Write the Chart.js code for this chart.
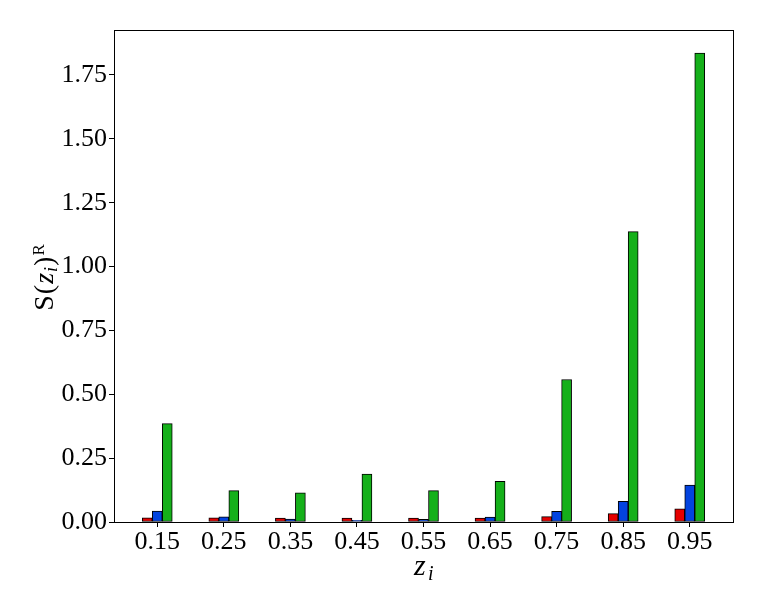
<!DOCTYPE html>
<html>
<head>
<meta charset="UTF-8">
<script src="https://cdn.jsdelivr.net/npm/chart.js"></script>
<style>
  body { margin: 0; background: #fff; }
  canvas { display: block; }
</style>
</head>
<body>
<canvas id="c" width="763" height="610"></canvas>
<script>
const categories = ['0.15', '0.25', '0.35', '0.45', '0.55', '0.65', '0.75', '0.85', '0.95'];
const redVals   = [0.016, 0.016, 0.015, 0.015, 0.015, 0.015, 0.021, 0.033, 0.052];
const blueVals  = [0.043, 0.020, 0.011, 0.007, 0.010, 0.019, 0.042, 0.081, 0.145];
const greenVals = [0.385, 0.123, 0.114, 0.188, 0.123, 0.159, 0.558, 1.137, 1.836];
const yTicks = [0, 0.25, 0.5, 0.75, 1.0, 1.25, 1.5, 1.75];

const toPts = arr => arr.map((v, i) => ({ x: i, y: v }));
const serif = 'Liberation Serif';

const frame = {
  id: 'frame',
  afterDraw(chart) {
    const { ctx, chartArea: a } = chart;
    ctx.save();
    ctx.strokeStyle = '#000';
    ctx.lineWidth = 1;
    ctx.strokeRect(a.left + 0.5, a.top + 0.5, a.right - a.left, a.bottom - a.top);

    // x title: z_i
    ctx.fillStyle = '#000';
    ctx.textBaseline = 'alphabetic';
    ctx.font = 'italic 30px ' + serif;
    ctx.fillText('z', 414, 575);
    ctx.font = 'italic 20px ' + serif;
    ctx.fillText('i', 428, 580);

    // y title: S(z_i)^R rotated
    ctx.translate(53, 277);
    ctx.rotate(-Math.PI / 2);
    const parts = [
      ['S', '28px ' + serif, 0],
      ['(', '28px ' + serif, 0],
      ['z', 'italic 28px ' + serif, 0],
      ['i', 'italic 18px ' + serif, 4],
      [')', '28px ' + serif, 0],
      ['R', '17px ' + serif, -9]
    ];
    let total = 0;
    parts.forEach(p => { ctx.font = p[1]; total += ctx.measureText(p[0]).width + 1; });
    let x = -total / 2;
    parts.forEach(p => {
      ctx.font = p[1];
      ctx.fillText(p[0], x, p[2]);
      x += ctx.measureText(p[0]).width + 1;
    });
    ctx.restore();
  }
};

new Chart(document.getElementById('c'), {
  type: 'bar',
  data: {
    datasets: [
      { data: toPts(redVals), backgroundColor: '#e50000' },
      { data: toPts(blueVals), backgroundColor: '#0343df' },
      { data: toPts(greenVals), backgroundColor: '#15b01a' }
    ]
  },
  options: {
    responsive: false,
    animation: false,
    devicePixelRatio: 1,
    layout: { padding: { top: 30, right: 30, left: 0, bottom: 0 } },
    datasets: {
      bar: { barThickness: 10, borderColor: '#000', borderWidth: 1, borderSkipped: false }
    },
    plugins: { legend: { display: false }, tooltip: { enabled: false } },
    scales: {
      x: {
        type: 'linear',
        offset: false,
        min: -0.65,
        max: 8.65,
        afterBuildTicks: ax => { ax.ticks = categories.map((c, i) => ({ value: i })); },
        afterFit: ax => { ax.height = 88; },
        ticks: {
          callback: v => categories[v],
          color: '#000',
          font: { family: serif, size: 26 },
          padding: 0,
          maxRotation: 0
        },
        grid: { offset: false, drawOnChartArea: false, tickLength: 5, color: '#000' },
        border: { color: '#000' }
      },
      y: {
        min: 0,
        max: 1.926,
        afterBuildTicks: ax => { ax.ticks = yTicks.map(v => ({ value: v })); },
        afterFit: ax => { ax.width = 114; },
        ticks: {
          callback: v => v.toFixed(2),
          color: '#000',
          font: { family: serif, size: 26 },
          padding: 2
        },
        grid: { drawOnChartArea: false, tickLength: 5, color: '#000' },
        border: { color: '#000' }
      }
    }
  },
  plugins: [frame]
});
</script>
</body>
</html>
